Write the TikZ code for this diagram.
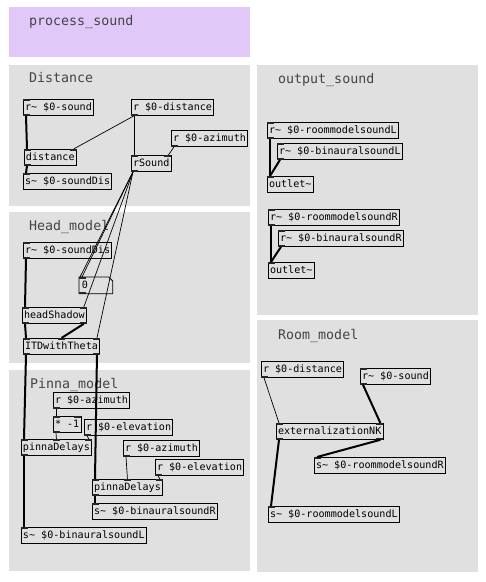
\documentclass[tikz,border=0pt]{standalone}
\usepackage{fontspec}
\newfontfamily\pdmono{DejaVu Sans Mono}
\definecolor{pdCanvas}{HTML}{E0E0E0}
\definecolor{pdPurple}{HTML}{E0C8F8}
\definecolor{pdTitle}{HTML}{444444}
% ports of an object box
\newcommand{\pdInL}[1]{\fill[port] (#1.north west) rectangle ++(7,2);}
\newcommand{\pdInM}[1]{\fill[port] ([xshift=-3.5pt]#1.north) rectangle ++(7,2);}
\newcommand{\pdInR}[1]{\fill[port] (#1.north east) rectangle ++(-7,2);}
\newcommand{\pdOutL}[1]{\fill[port] (#1.south west) rectangle ++(7,-2);}
\newcommand{\pdOutR}[1]{\fill[port] (#1.south east) rectangle ++(-7,-2);}
\newcommand{\tl}{\textasciitilde{}}

\begin{document}
\begin{tikzpicture}[
    x=1pt, y=-1pt,
    obj/.style={draw=black, line width=0.8pt, anchor=north west, inner xsep=1.6pt, inner ysep=2.75pt,
      text height=8pt, text depth=2.5pt, font=\pdmono\fontsize{10.1}{12}\selectfont},
    title/.style={anchor=base west, inner sep=0pt, text=pdTitle, font=\pdmono\fontsize{13.3}{15}\selectfont},
    sig/.style={line width=2pt},
    ctl/.style={line width=0.7pt},
    port/.style={fill=black!85}
  ]
    \useasboundingbox[fill=white] (0,0) rectangle (486,582);

    % canvases
    \fill[pdPurple] (9,7) rectangle (250,57);
    \fill[pdCanvas] (9,65) rectangle (250,206);
    \fill[pdCanvas] (9,212) rectangle (250,363);
    \fill[pdCanvas] (9,370) rectangle (250,571);
    \fill[pdCanvas] (257,65) rectangle (478,315);
    \fill[pdCanvas] (257,320) rectangle (478,572);

    \node[title] (tmain) at (29,25) {process\_sound};
    \node[title] (tdist) at (29,82) {Distance};
    \node[title] (thead) at (29,230) {Head\_model};
    \node[title] (tpinna) at (30,388) {Pinna\_model};
    \node[title] (tout) at (278,83) {output\_sound};
    \node[title] (troom) at (278,339) {Room\_model};

    % Distance
    \node[obj] (dsound) at (23,99) {r\tl\ \$0-sound};
    \node[obj] (ddist) at (131,99) {r \$0-distance};
    \node[obj] (dazim) at (171,130) {r \$0-azimuth};
    \node[obj] (distance) at (24,149) {distance};
    \node[obj] (rsound) at (131,155) {rSound};
    \node[obj] (dsend) at (23,173) {s\tl\ \$0-soundDis};

    % Head_model
    \node[obj] (hrecv) at (23,242) {r\tl\ \$0-soundDis};
    \node[obj, draw=none, minimum width=33pt, align=left, text width=28pt] (num) at (79,277) {0};
    \draw[line width=0.8pt] (num.north west) -- ([xshift=-4pt]num.north east)
      -- ([yshift=-4pt]num.north east) -- (num.south east) -- (num.south west) -- cycle;
    \node[obj] (hshadow) at (22,307) {headShadow};
    \node[obj] (itd) at (23,338) {ITDwithTheta};

    % Pinna_model
    \node[obj] (pazimA) at (53,392) {r \$0-azimuth};
    \node[obj] (pmul) at (53,416) {* -1};
    \node[obj] (pelevA) at (84,419) {r \$0-elevation};
    \node[obj] (pdelA) at (21,439) {pinnaDelays};
    \node[obj] (pazimB) at (123,440) {r \$0-azimuth};
    \node[obj] (pelevB) at (155,459) {r \$0-elevation};
    \node[obj] (pdelB) at (92,479) {pinnaDelays};
    \node[obj] (psendR) at (92,503) {s\tl\ \$0-binauralsoundR};
    \node[obj] (psendL) at (21,527) {s\tl\ \$0-binauralsoundL};

    % output_sound
    \node[obj] (oroomL) at (267,122) {r\tl\ \$0-roommodelsoundL};
    \node[obj] (obinL) at (277,143) {r\tl\ \$0-binauralsoundL};
    \node[obj] (outL) at (267,176) {outlet\tl};
    \node[obj] (oroomR) at (268,209) {r\tl\ \$0-roommodelsoundR};
    \node[obj] (obinR) at (278,230) {r\tl\ \$0-binauralsoundR};
    \node[obj] (outR) at (268,262) {outlet\tl};

    % Room_model
    \node[obj] (rdist) at (261,361) {r \$0-distance};
    \node[obj] (rsoundB) at (360,368) {r\tl\ \$0-sound};
    \node[obj] (ext) at (276,423) {externalizationNK};
    \node[obj] (rsendR) at (314,457) {s\tl\ \$0-roommodelsoundR};
    \node[obj] (rsendL) at (268,506) {s\tl\ \$0-roommodelsoundL};

    % ports
    \foreach \n in {dsound,distance,rsound,dsend,hrecv,num,hshadow,itd,pmul,pdelA,pdelB,
        psendR,psendL,oroomL,obinL,outL,oroomR,obinR,outR,rsoundB,ext,rsendR,rsendL} {\pdInL{\n}}
    \foreach \n in {distance,rsound,hshadow,itd,pmul,pdelA,pdelB,ext} {\pdInR{\n}}
    \foreach \n in {itd,pdelA,pdelB} {\pdInM{\n}}
    \foreach \n in {dsound,ddist,dazim,distance,rsound,hrecv,num,hshadow,itd,pazimA,pmul,pelevA,
        pdelA,pazimB,pelevB,pdelB,oroomL,obinL,oroomR,obinR,rdist,rsoundB,ext} {\pdOutL{\n}}
    \foreach \n in {hshadow,itd,ext} {\pdOutR{\n}}

    % connections: Distance
    \draw[sig] ([xshift=3pt]dsound.south west) -- ([xshift=3pt]distance.north west);
    \draw[sig] ([xshift=3pt]distance.south west) -- ([xshift=3pt]dsend.north west);
    \draw[ctl] ([xshift=3pt]ddist.south west) -- ([xshift=-3pt]distance.north east);
    \draw[ctl] ([xshift=3pt]ddist.south west) -- ([xshift=3pt]rsound.north west);
    \draw[ctl] ([xshift=3pt]dazim.south west) -- ([xshift=-3pt]rsound.north east);

    % rSound fan-out
    \draw[ctl] ([xshift=2pt]rsound.south west) -- ([xshift=1pt]num.north west);
    \draw[ctl] ([xshift=2pt]rsound.south west) -- ([xshift=3pt]num.north west);
    \draw[ctl] ([xshift=2pt]rsound.south west) -- ([xshift=-3pt]hshadow.north east);
    \draw[ctl] ([xshift=2pt]rsound.south west) -- ([xshift=-3pt]itd.north east);

    % Head_model
    \draw[sig] ([xshift=3pt]hrecv.south west) -- ([xshift=3pt]hshadow.north west);
    \draw[sig] ([xshift=3pt]hshadow.south west) -- ([xshift=3pt]itd.north west);
    \draw[sig] ([xshift=-3pt]hshadow.south east) -- (itd.north);

    % Pinna_model
    \draw[sig] ([xshift=3pt]itd.south west) -- ([xshift=3pt]pdelA.north west);
    \draw[sig] ([xshift=-3pt]itd.south east) -- ([xshift=3pt]pdelB.north west);
    \draw[ctl] ([xshift=3pt]pazimA.south west) -- ([xshift=3pt]pmul.north west);
    \draw[ctl] ([xshift=3pt]pmul.south west) -- (pdelA.north);
    \draw[ctl] ([xshift=3pt]pelevA.south west) -- ([xshift=-3pt]pdelA.north east);
    \draw[sig] ([xshift=3pt]pdelA.south west) -- ([xshift=3pt]psendL.north west);
    \draw[ctl] ([xshift=3pt]pazimB.south west) -- (pdelB.north);
    \draw[ctl] ([xshift=3pt]pelevB.south west) -- ([xshift=-3pt]pdelB.north east);
    \draw[sig] ([xshift=3pt]pdelB.south west) -- ([xshift=3pt]psendR.north west);

    % output_sound
    \draw[sig] ([xshift=3pt]oroomL.south west) -- ([xshift=3pt]outL.north west);
    \draw[sig] ([xshift=3pt]obinL.south west) -- ([xshift=3pt]outL.north west);
    \draw[sig] ([xshift=3pt]oroomR.south west) -- ([xshift=3pt]outR.north west);
    \draw[sig] ([xshift=3pt]obinR.south west) -- ([xshift=3pt]outR.north west);

    % Room_model
    \draw[ctl] ([xshift=3pt]rdist.south west) -- ([xshift=3pt]ext.north west);
    \draw[sig] ([xshift=3pt]rsoundB.south west) -- ([xshift=-3pt]ext.north east);
    \draw[sig] ([xshift=3pt]ext.south west) -- ([xshift=3pt]rsendL.north west);
    \draw[sig] ([xshift=-3pt]ext.south east) -- ([xshift=3pt]rsendR.north west);
\end{tikzpicture}
\end{document}
